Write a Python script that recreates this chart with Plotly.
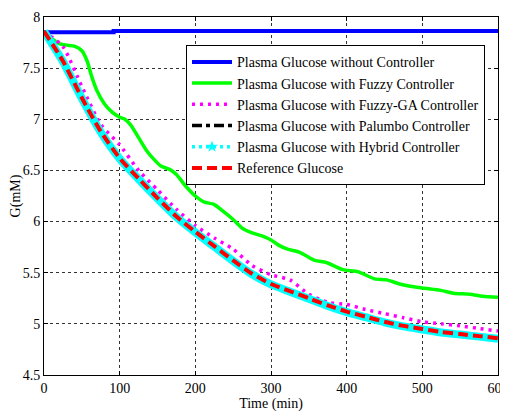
import plotly.graph_objects as go

# ---- data ----
t_common = [0, 25, 50, 75, 100, 125, 150, 175, 200, 225, 250, 275, 300,
            325, 350, 375, 400, 425, 450, 475, 500, 525, 550, 575, 600]

g_reference = [7.86, 7.57, 7.21, 6.88, 6.62, 6.42, 6.23, 6.05, 5.90, 5.76, 5.62, 5.49, 5.39,
               5.32, 5.25, 5.18, 5.12, 5.07, 5.02, 4.98, 4.95, 4.92, 4.90, 4.88, 4.86]
g_palumbo = [7.86, 7.57, 7.21, 6.88, 6.62, 6.42, 6.23, 6.05, 5.90, 5.76, 5.62, 5.49, 5.39,
             5.32, 5.25, 5.18, 5.12, 5.07, 5.02, 4.98, 4.95, 4.92, 4.90, 4.88, 4.86]
g_hybrid = [7.86, 7.565, 7.205, 6.875, 6.615, 6.415, 6.225, 6.045, 5.895, 5.755, 5.615, 5.485,
            5.385, 5.315, 5.245, 5.175, 5.115, 5.065, 5.015, 4.975, 4.945, 4.915, 4.895,
            4.875, 4.855]
g_fuzzy_ga = [7.86, 7.71, 7.32, 6.95, 6.75, 6.50, 6.31, 6.12, 5.96, 5.84, 5.73, 5.57, 5.48,
              5.43, 5.29, 5.21, 5.19, 5.14, 5.10, 5.06, 5.02, 5.00, 4.98, 4.955, 4.93]

t_fuzzy = [0, 10, 20, 30, 40, 50, 57, 63, 70, 80, 90, 100, 107, 115, 125, 135, 145, 155,
           166, 175, 188, 200, 212, 224, 237, 250, 263, 275, 288, 300, 310, 322, 338, 358,
           373, 395, 415, 437, 453, 470, 500, 523, 541, 563, 580, 600]
g_fuzzy = [7.86, 7.79, 7.74, 7.725, 7.715, 7.67, 7.57, 7.42, 7.28, 7.15, 7.07, 7.02, 7.00,
           6.94, 6.82, 6.70, 6.61, 6.54, 6.51, 6.46, 6.34, 6.25, 6.19, 6.17, 6.10, 6.02,
           5.93, 5.89, 5.86, 5.82, 5.77, 5.73, 5.70, 5.62, 5.60, 5.53, 5.51, 5.44, 5.43,
           5.39, 5.35, 5.33, 5.30, 5.29, 5.27, 5.26]

t_open = [0, 92, 92, 600]
g_open = [7.852, 7.852, 7.862, 7.862]

names = ["Plasma Glucose without Controller",
         "Plasma Glucose with Fuzzy Controller",
         "Plasma Glucose with Fuzzy-GA Controller",
         "Plasma Glucose with Palumbo Controller",
         "Plasma Glucose with Hybrid Controller",
         "Reference Glucose"]

x_ticks = [0, 100, 200, 300, 400, 500, 600]
y_ticks = [4.5, 5, 5.5, 6, 6.5, 7, 7.5, 8]
y_tick_text = ["4.5", "5", "5.5", "6", "6.5", "7", "7.5", "8"]

FONT = "Liberation Serif, Times New Roman, serif"

fig = go.Figure()

fig.add_trace(go.Scatter(x=t_open, y=g_open, mode="lines", name=names[0],
                         line=dict(color="#0000FF", width=4), legendrank=1))
fig.add_trace(go.Scatter(x=t_fuzzy, y=g_fuzzy, mode="lines", name=names[1],
                         line=dict(color="#00FF00", width=3.5, shape="spline", smoothing=0.6),
                         legendrank=2))
fig.add_trace(go.Scatter(x=t_common, y=g_fuzzy_ga, mode="lines", name=names[2],
                         line=dict(color="#FF00FF", width=3.5, dash="3px,5px",
                                   shape="spline", smoothing=0.6), legendrank=3))
fig.add_trace(go.Scatter(x=t_common, y=g_palumbo, mode="lines", name=names[3],
                         line=dict(color="#000000", width=3.5, dash="10px,4px,4px,4px",
                                   shape="spline", smoothing=0.6), legendrank=4))
# hybrid: thick cyan band in the plot, dotted + marker in the legend
fig.add_trace(go.Scatter(x=t_common, y=g_hybrid, mode="lines", showlegend=False,
                         line=dict(color="#00FFFF", width=8, shape="spline", smoothing=0.6)))
fig.add_trace(go.Scatter(x=[None], y=[None], mode="lines+markers", name=names[4],
                         line=dict(color="#00FFFF", width=3.5, dash="3px,4px"),
                         marker=dict(color="#00FFFF", symbol="star", size=9),
                         legendrank=5))
fig.add_trace(go.Scatter(x=t_common, y=g_reference, mode="lines", name=names[5],
                         line=dict(color="#FF0000", width=4, dash="10px,5px",
                                   shape="spline", smoothing=0.6), legendrank=6))

axis_common = dict(showline=True, linecolor="black", linewidth=1, mirror="allticks",
                   ticks="inside", ticklen=4, tickcolor="black", automargin=False,
                   showgrid=True, gridcolor="#333333", gridwidth=1, griddash="3px,3px",
                   zeroline=False, ticklabeloverflow="allow",
                   tickfont=dict(family=FONT, size=14, color="black"))

fig.update_xaxes(range=[0, 600], tickvals=x_ticks, ticklabelstandoff=0,
                 title=dict(text="Time (min)", font=dict(family=FONT, size=14, color="black"),
                            standoff=13),
                 **axis_common)
fig.update_yaxes(range=[4.5, 8], tickvals=y_ticks, ticktext=y_tick_text,
                 title=dict(text="G(mM)", font=dict(family=FONT, size=14, color="black"),
                            standoff=8),
                 **axis_common)

# the page body has an 8px default margin, so the figure is sized to fit the window
fig.update_layout(
    width=500, height=404,
    margin=dict(l=36, r=10, t=9, b=37, autoexpand=False),
    paper_bgcolor="white", plot_bgcolor="white",
    font=dict(family=FONT, size=14, color="black"),
    legend=dict(x=0.3128, y=0.921, xanchor="left", yanchor="top",
                bgcolor="white", bordercolor="black", borderwidth=1,
                font=dict(family=FONT, size=14, color="black"),
                itemwidth=40, tracegroupgap=0),
)

fig.write_html("out.html")
